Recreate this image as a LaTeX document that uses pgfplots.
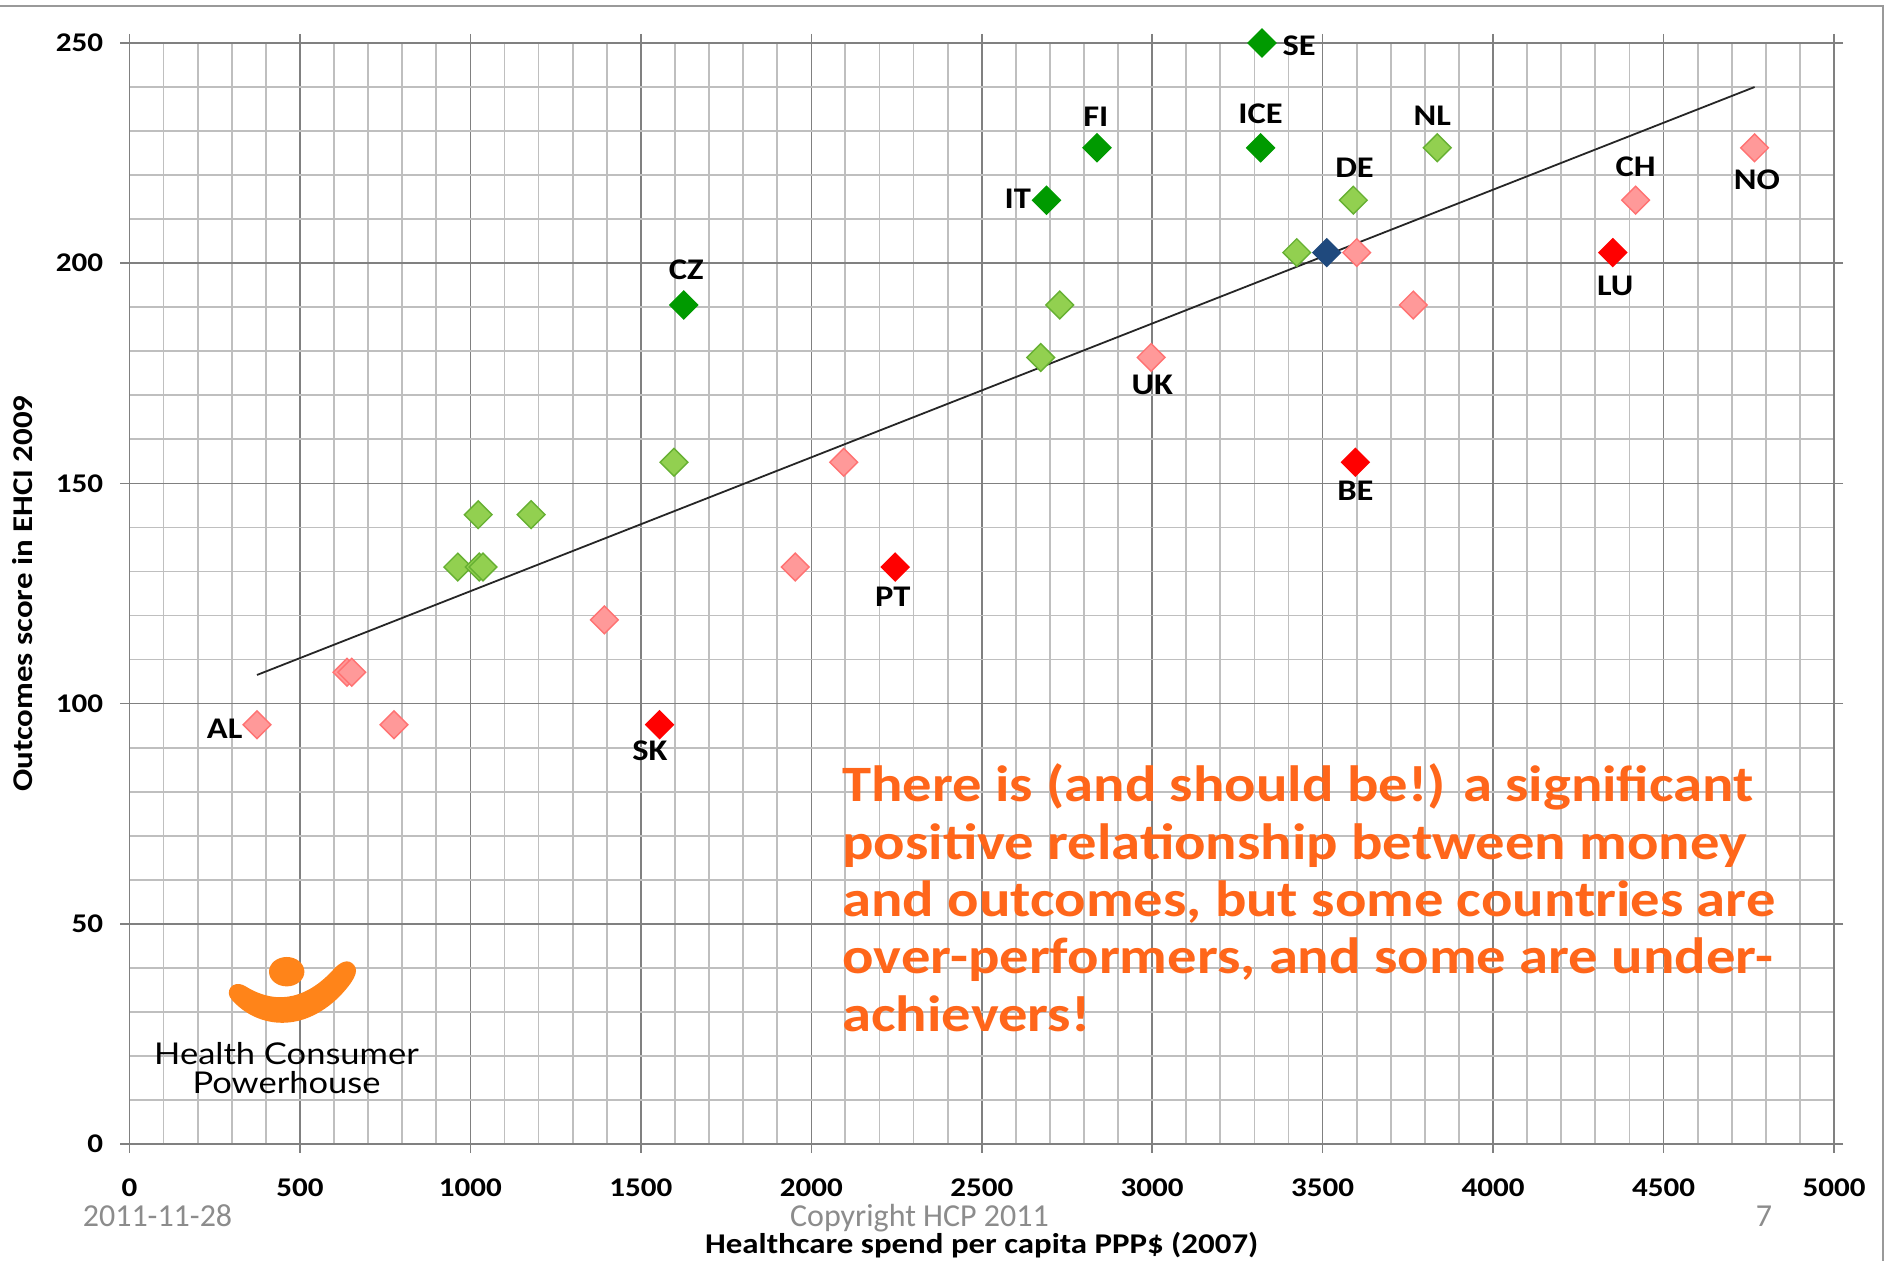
\documentclass[border=0pt]{standalone}
\usepackage{pgfplots}
\pgfplotsset{compat=1.18}
\usepackage{pgfplotstable}
\usepackage{fontspec}
% the chart in the slide is a stretched picture: glyphs are wider than normal
\setmainfont{Carlito}[FakeStretch=1.15]
\newfontfamily\footfont{Carlito}
\newfontfamily\logofont{Lato}[FakeStretch=1.15]

\definecolor{pinkfill}{HTML}{FF9999}
\definecolor{pinkedge}{HTML}{FF7272}
\definecolor{lgfill}{HTML}{92D050}
\definecolor{lgedge}{HTML}{66B032}
\definecolor{dkgreen}{HTML}{009A00}
\definecolor{dkblue}{HTML}{1F497D}
\definecolor{hcporange}{HTML}{FF8419}
\definecolor{noteorange}{HTML}{FF661A}
\definecolor{footgray}{HTML}{8C8C8C}

% x = spend, y = score, lab = country, dx/dy = label offset in pt
\pgfplotstableread{
x y lab dx dy
374 95.2 AL -16.2 -1.8
638 107.1 {} 0 0
652 107.1 {} 0 0
776 95.2 {} 0 0
1393 119.0 {} 0 0
1953 131.0 {} 0 0
2095 154.8 {} 0 0
2997 178.6 UK 0.6 -13.8
3600 202.4 {} 0 0
3766 190.5 {} 0 0
4418 214.3 CH 0 16.8
4767 226.2 NO 1.2 -16.2
}\pinkdata

\pgfplotstableread{
x y lab dx dy
963 131.0 {} 0 0
1023 142.9 {} 0 0
1026 131.0 {} 0 0
1037 131.0 {} 0 0
1178 142.9 {} 0 0
1597 154.8 {} 0 0
2673 178.6 {} 0 0
2729 190.5 {} 0 0
3424 202.4 {} 0 0
3590 214.3 DE 0.6 16.2
3836 226.2 NL -2.4 16.2
}\lgreendata

\pgfplotstableread{
x y lab dx dy
1626 190.5 CZ 1.2 17.4
2690 214.3 IT -14.4 0.6
2838 226.2 FI -0.6 15.6
3318 226.2 ICE 0 16.8
3322 250.0 SE 18.6 -1.2
}\dgreendata

\pgfplotstableread{
x y lab dx dy
1555 95.2 SK -4.8 -13.2
2246 131.0 PT -1.2 -15.0
3596 154.8 BE 0 -14.4
4351 202.4 LU 1.2 -16.8
}\reddata

\pgfplotstableread{
x y lab dx dy
3512 202.4 {} 0 0
}\bluedata

\pgfplotsset{
  country/.style={
    only marks, mark=square*, mark size=4.9pt,
    point meta=explicit symbolic,
    visualization depends on={\thisrow{dx}\as\dx},
    visualization depends on={\thisrow{dy}\as\dy},
    nodes near coords,
    nodes near coords align={center},
    nodes near coords style={anchor=center, xshift=\dx pt, yshift=\dy pt,
      text=black, font=\bfseries\fontsize{15}{18}\selectfont, inner sep=0pt},
  },
}

\begin{document}
\begin{tikzpicture}
\fill[white] (0,0) rectangle (942.5pt,630.5pt);
\path[use as bounding box] (0,0) rectangle (942.5pt,630.5pt);

\begin{axis}[
  at={(64.75pt,58.5pt)}, anchor=south west,
  scale only axis, width=852.25pt, height=550.5pt,
  xmin=0, xmax=5000, ymin=0, ymax=250,
  xtick distance=500, ytick distance=50,
  minor x tick num=4, minor y tick num=4,
  grid=both,
  major grid style={draw=black!50, line width=0.8pt},
  minor grid style={draw=black!25, line width=0.9pt},
  axis line style={draw=black!50, line width=0.9pt},
  tick align=outside, major tick length=4.5pt, minor tick length=0pt,
  tick style={draw=black!50, line width=0.8pt},
  ticklabel style={font=\bfseries\fontsize{13.5}{16}\selectfont},
  /pgf/number format/assume math mode=true,
  scaled ticks=false, /pgf/number format/set thousands separator={},
  yticklabel style={anchor=east, inner sep=0pt, xshift=-8.5pt},
  xticklabel style={anchor=north, inner sep=0pt, yshift=-12.5pt},
  label style={font=\bfseries\fontsize{14.3}{17}\selectfont},
  xlabel={Healthcare spend per capita PPP\$ (2007)},
  ylabel={Outcomes score in EHCI 2009},
  xlabel style={at={(axis description cs:0.5,-0.0915)}, anchor=center},
  ylabel style={at={(axis description cs:-0.0625,0.5)}, anchor=center},
  clip=false,
]
\addplot[black!85, line width=0.9pt, no markers] coordinates {(374,106.5) (4767,240)};
\addplot[country, mark options={rotate=45, fill=lgfill, draw=lgedge, line width=0.7pt}]
  table[x=x, y=y, meta=lab] {\lgreendata};
\addplot[country, mark options={rotate=45, fill=pinkfill, draw=pinkedge, line width=0.7pt}]
  table[x=x, y=y, meta=lab] {\pinkdata};
\addplot[country, mark options={rotate=45, fill=dkgreen, draw=dkgreen, line width=0.7pt}]
  table[x=x, y=y, meta=lab] {\dgreendata};
\addplot[country, mark options={rotate=45, fill=red, draw=red, line width=0.7pt}]
  table[x=x, y=y, meta=lab] {\reddata};
\addplot[country, mark options={rotate=45, fill=dkblue, draw=dkblue, line width=0.7pt}]
  table[x=x, y=y, meta=lab] {\bluedata};
\end{axis}

% overlay in pixel units of the slide (y down)
\begin{scope}[x=0.5pt, y=-0.5pt, shift={(0,-1261)}]
  \draw[black!40, line width=1pt] (0,6) -- (1883,6) -- (1883,1261);
  % annotation
  \begin{scope}[every node/.style={anchor=base west, inner sep=0pt, text=noteorange,
      font=\bfseries\fontsize{25.5}{29}\selectfont}]
    \node at (842,802) {There is (and should be!) a significant};
    \node at (842,859.5) {positive relationship between money};
    \node at (842,917) {and outcomes, but some countries are};
    \node at (842,974) {over-performers, and some are under-};
    \node at (842,1032) {achievers!};
  \end{scope}
  % logo
  \fill[hcporange] (286.7,971.7) ellipse [x radius=17.7, y radius=14.7];
  \fill[hcporange] (232,1000) .. controls (255,1026) and (300,1036) .. (340,996)
    .. controls (352,983) and (360,972) .. (354,965)
    .. controls (348,958) and (340,962) .. (333,970)
    .. controls (310,995) and (280,1008) .. (245,986)
    .. controls (232,979) and (224,992) .. (232,1000) -- cycle;
  \node[anchor=base, inner sep=0pt, font=\logofont\fontsize{15}{18}\selectfont] at (286.5,1065) {Health Consumer};
  \node[anchor=base, inner sep=0pt, font=\logofont\fontsize{15}{18}\selectfont] at (286.5,1094) {Powerhouse};
  % footer
  \begin{scope}[every node/.style={anchor=base, inner sep=0pt, text=footgray,
      font=\footfont\fontsize{16}{19}\selectfont}]
    \node at (157.5,1227) {2011-11-28};
    \node at (919.5,1227) {Copyright HCP 2011};
    \node at (1764,1227) {7};
  \end{scope}
\end{scope}
\end{tikzpicture}
\end{document}
